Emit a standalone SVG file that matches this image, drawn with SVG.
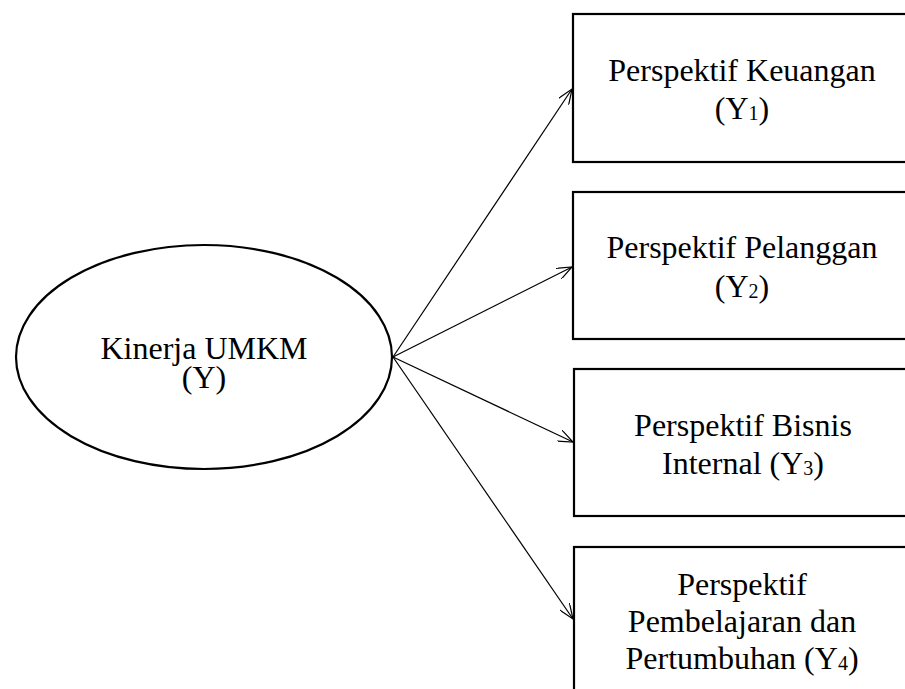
<svg xmlns="http://www.w3.org/2000/svg" width="905" height="689" viewBox="0 0 905 689">
  <style>
    .box { fill: #ffffff; stroke: #000000; stroke-width: 2.2; }
    .oval { fill: #ffffff; stroke: #000000; stroke-width: 2.2; }
    .lbl { font-family: 'Liberation Serif', 'DejaVu Serif', serif; font-size: 32px; fill: #000000; text-anchor: middle; }
    .sub { font-size: 20px; }
    .edge { stroke: #000000; stroke-width: 1.2; fill: none; marker-end: url(#arr); }
  </style>
  <defs>
    <marker id="arr" viewBox="0 0 16 12" refX="15" refY="6" markerWidth="16" markerHeight="12" markerUnits="userSpaceOnUse" orient="auto">
      <path d="M0,0 L15,6 L0,12" fill="none" stroke="#000000" stroke-width="1.2"/>
    </marker>
  </defs>
  <rect width="905" height="689" fill="#ffffff"/>

  <g id="connectors">
    <line class="edge" x1="393" y1="357" x2="572" y2="89"/>
    <line class="edge" x1="393" y1="357" x2="572" y2="267"/>
    <line class="edge" x1="393" y1="357" x2="573" y2="442"/>
    <line class="edge" x1="393" y1="357" x2="573" y2="619"/>
  </g>

  <g id="kinerja">
    <ellipse class="oval" cx="204" cy="357" rx="188" ry="112"/>
    <text class="lbl" x="204" y="359">Kinerja UMKM</text>
    <text class="lbl" x="204" y="388">(Y)</text>
  </g>

  <g id="keuangan">
    <rect class="box" x="573" y="14" width="345" height="148"/>
    <text class="lbl" x="742" y="81">Perspektif Keuangan</text>
    <text class="lbl" x="742" y="119">(Y<tspan class="sub" dy="1">1</tspan><tspan dy="-1">)</tspan></text>
  </g>

  <g id="pelanggan">
    <rect class="box" x="573" y="192" width="345" height="147"/>
    <text class="lbl" x="742" y="258">Perspektif Pelanggan</text>
    <text class="lbl" x="742" y="297">(Y<tspan class="sub" dy="1">2</tspan><tspan dy="-1">)</tspan></text>
  </g>

  <g id="bisnis">
    <rect class="box" x="574" y="369" width="345" height="147"/>
    <text class="lbl" x="743" y="436">Perspektif Bisnis</text>
    <text class="lbl" x="743" y="474">Internal (Y<tspan class="sub" dy="1">3</tspan><tspan dy="-1">)</tspan></text>
  </g>

  <g id="pembelajaran">
    <rect class="box" x="574" y="547" width="345" height="160"/>
    <text class="lbl" x="742" y="595">Perspektif</text>
    <text class="lbl" x="742" y="632">Pembelajaran dan</text>
    <text class="lbl" x="742" y="669">Pertumbuhan (Y<tspan class="sub" dy="1">4</tspan><tspan dy="-1">)</tspan></text>
  </g>
</svg>
